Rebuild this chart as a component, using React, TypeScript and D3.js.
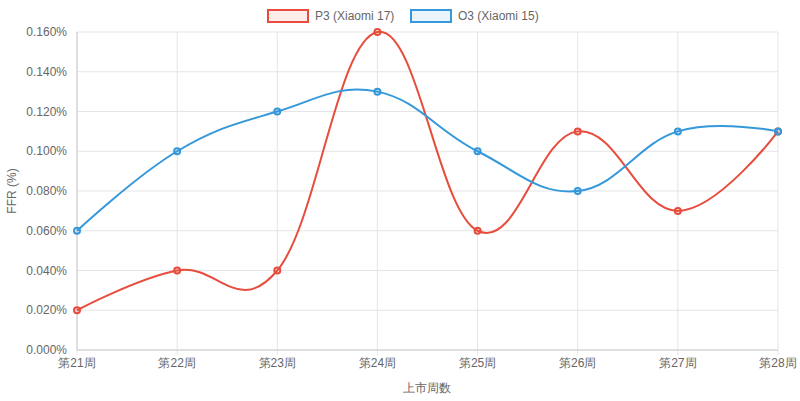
import React from "react";
import * as d3 from "d3";

const categories = ["第21周","第22周","第23周","第24周","第25周","第26周","第27周","第28周"];
const p3 = [0.0002,0.0004,0.0004,0.0016,0.0006,0.0011,0.0007,0.0011];
const o3 = [0.0006,0.0010,0.0012,0.0013,0.0010,0.0008,0.0011,0.0011];
const yTicks = [0,0.0002,0.0004,0.0006,0.0008,0.0010,0.0012,0.0014,0.0016];
const series = [
  { name: "P3 (Xiaomi 17)", values: p3, color: "#e74c3c", fill: "rgba(231,76,60,0.1)" },
  { name: "O3 (Xiaomi 15)", values: o3, color: "#3498db", fill: "rgba(52,152,219,0.1)" },
];

export default function App() {
  const W = 800, H = 401;
  const L = 77, R = 778, T = 32, B = 350;
  const x = d3.scalePoint<string>().domain(categories).range([L, R]);
  const y = d3.scaleLinear().domain([0, 0.0016]).range([B, T]);
  const line = d3.line<number>().x((_, i) => x(categories[i])!).y(d => y(d)).curve(d3.curveCardinal.tension(-0.2));
  const font = "'Liberation Sans', Arial, sans-serif";
  return (
    <svg width={W} height={H} style={{ position: "absolute", left: 0, top: 0 }} fontFamily={font} fontSize={12} fill="#666">
      {yTicks.map((t, i) => (
        <g key={i}>
          <line x1={L} x2={R} y1={y(t)} y2={y(t)} stroke="#e5e5e5" />
          <text x={L - 10} y={y(t)} dy="0.35em" textAnchor="end">{(t * 100).toFixed(3)}%</text>
        </g>
      ))}
      {categories.map(c => (
        <g key={c}>
          <line x1={x(c)} x2={x(c)} y1={T} y2={B} stroke="#e5e5e5" />
          <line x1={x(c)} x2={x(c)} y1={B} y2={B + 5} stroke="#e5e5e5" />
          <text x={x(c)} y={B + 17} textAnchor="middle">{c}</text>
        </g>
      ))}
      <line x1={L} x2={L} y1={T} y2={B} stroke="#ccc" />
      <line x1={L} x2={R} y1={B} y2={B} stroke="#ccc" />
      <text x={W / 2 + 27} y={392} textAnchor="middle">上市周数</text>
      <text transform={`translate(16,${(T + B) / 2}) rotate(-90)`} textAnchor="middle">FFR (%)</text>
      {series.map(s => (
        <g key={s.name}>
          <path d={line(s.values)!} fill="none" stroke={s.color} strokeWidth={2} />
          {s.values.map((v, i) => (
            <circle key={i} cx={x(categories[i])} cy={y(v)} r={3} fill={s.fill} stroke={s.color} strokeWidth={2} />
          ))}
        </g>
      ))}
      {series.map((s, i) => {
        const lx = i === 0 ? 268 : 411;
        return (
          <g key={s.name}>
            <rect x={lx} y={10} width={40} height={12} fill={s.fill} stroke={s.color} strokeWidth={2} />
            <text x={lx + 47} y={16} dy="0.35em">{s.name}</text>
          </g>
        );
      })}
    </svg>
  );
}
